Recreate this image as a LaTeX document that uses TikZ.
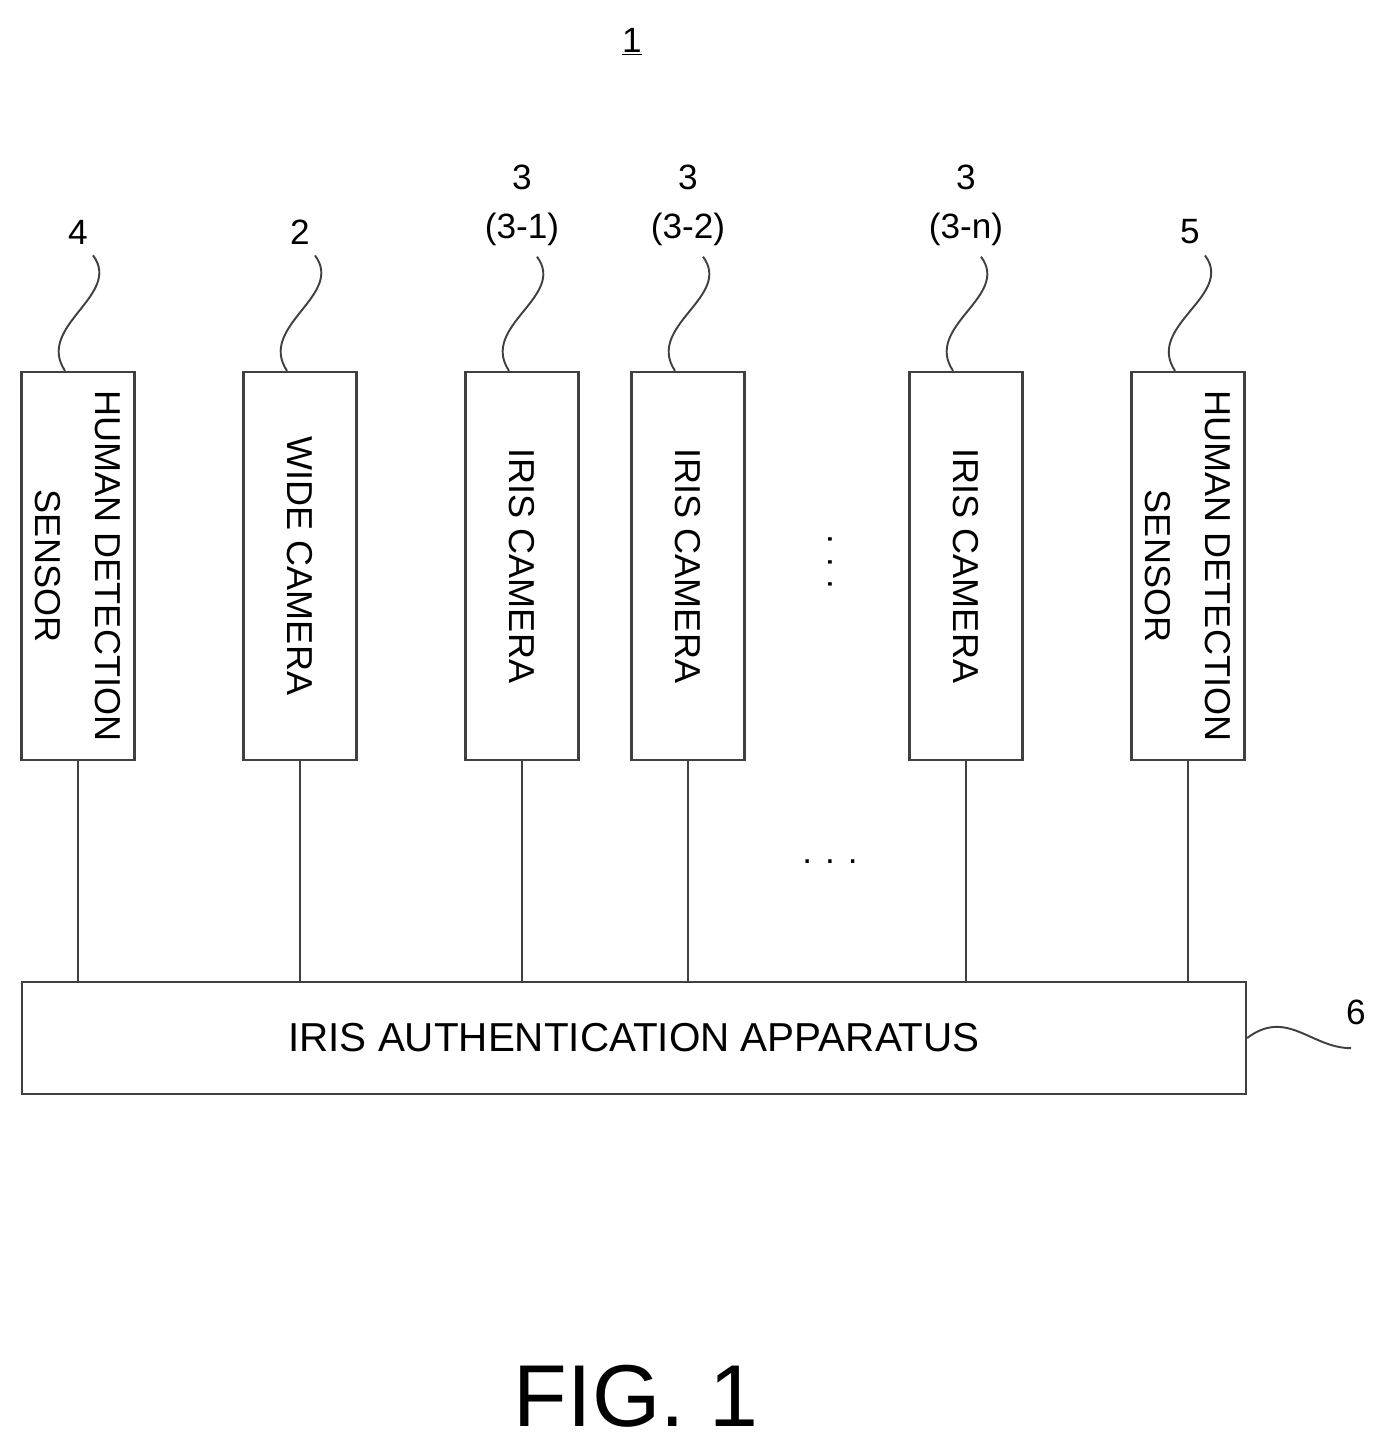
\documentclass[tikz,border=0pt]{standalone}
\usepackage{fontspec}
\setmainfont{Liberation Sans}
\usetikzlibrary{positioning}
\tikzset{
    unit/.style={draw, line width=1.4pt, black!75, text=black, minimum width=2.26cm, minimum height=7.76cm},
    unitlabel/.style={rotate=-90, align=center, font=\fontsize{20.5}{34}\selectfont},
    lead/.style={line width=1.1pt, black!75},
    bus/.style={line width=1.4pt, black!75},
    num/.style={align=center, font=\fontsize{20}{28}\selectfont}
}
\begin{document}
\begin{tikzpicture}[x=0.02cm, y=-0.02cm]
    \useasboundingbox (0,0) rectangle (1386,1448);

    \node[num] (fig) at (632,42) {\underline{1}};

    % units
    \node[unit] (sens4) at (78,566) {};
    \node[unitlabel] at (sens4) {HUMAN DETECTION\\SENSOR};
    \node[unit] (wide) at (300,566) {};
    \node[unitlabel] at (wide) {WIDE CAMERA};
    \node[unit] (iris1) at (522,566) {};
    \node[unitlabel] at (iris1) {IRIS CAMERA};
    \node[unit] (iris2) at (688,566) {};
    \node[unitlabel] at (iris2) {IRIS CAMERA};
    \node[unit] (irisn) at (966,566) {};
    \node[unitlabel] at (irisn) {IRIS CAMERA};
    \node[unit] (sens5) at (1188,566) {};
    \node[unitlabel] at (sens5) {HUMAN DETECTION\\SENSOR};

    \node[rotate=-90, font=\fontsize{20}{24}\selectfont] (vdots) at (830,562) {. . .};
    \node[font=\fontsize{20}{24}\selectfont] (hdots) at (830,862) {. . .};

    % apparatus
    \node[unit, minimum width=24.48cm, minimum height=2.24cm, font=\fontsize{23}{28}\selectfont] (app) at (634,1038) {IRIS AUTHENTICATION APPARATUS};

    % reference numerals
    \node[num] (n4) at (78,232) {4};
    \node[num] (n2) at (300,232) {2};
    \node[num] (n31) at (522,205) {3\\(3-1)};
    \node[num] (n32) at (688,205) {3\\(3-2)};
    \node[num] (n3n) at (966,205) {3\\(3-n)};
    \node[num] (n5) at (1190,232) {5};
    \node[num] (n6) at (1356,1012) {6};

    \foreach \n/\u in {n4/sens4, n2/wide, n31/iris1, n32/iris2, n3n/irisn, n5/sens5}
        \draw[lead] ([xshift=0.3cm,yshift=-0.1cm]\n.south) .. controls +(30,40) and +(-30,-45) .. ([xshift=-0.26cm]\u.north);
    \draw[lead] (app.east) .. controls +(40,-30) and +(-40,0) .. ([xshift=-0.1cm,yshift=-0.35cm]n6.south);

    % bus lines
    \foreach \u in {sens4, wide, iris1, iris2, irisn, sens5}
        \draw[bus] (\u.south) -- (\u.south |- app.north);

    \node[font=\fontsize{50}{60}\selectfont] (title) at (636,1396) {FIG. 1};
\end{tikzpicture}
\end{document}
